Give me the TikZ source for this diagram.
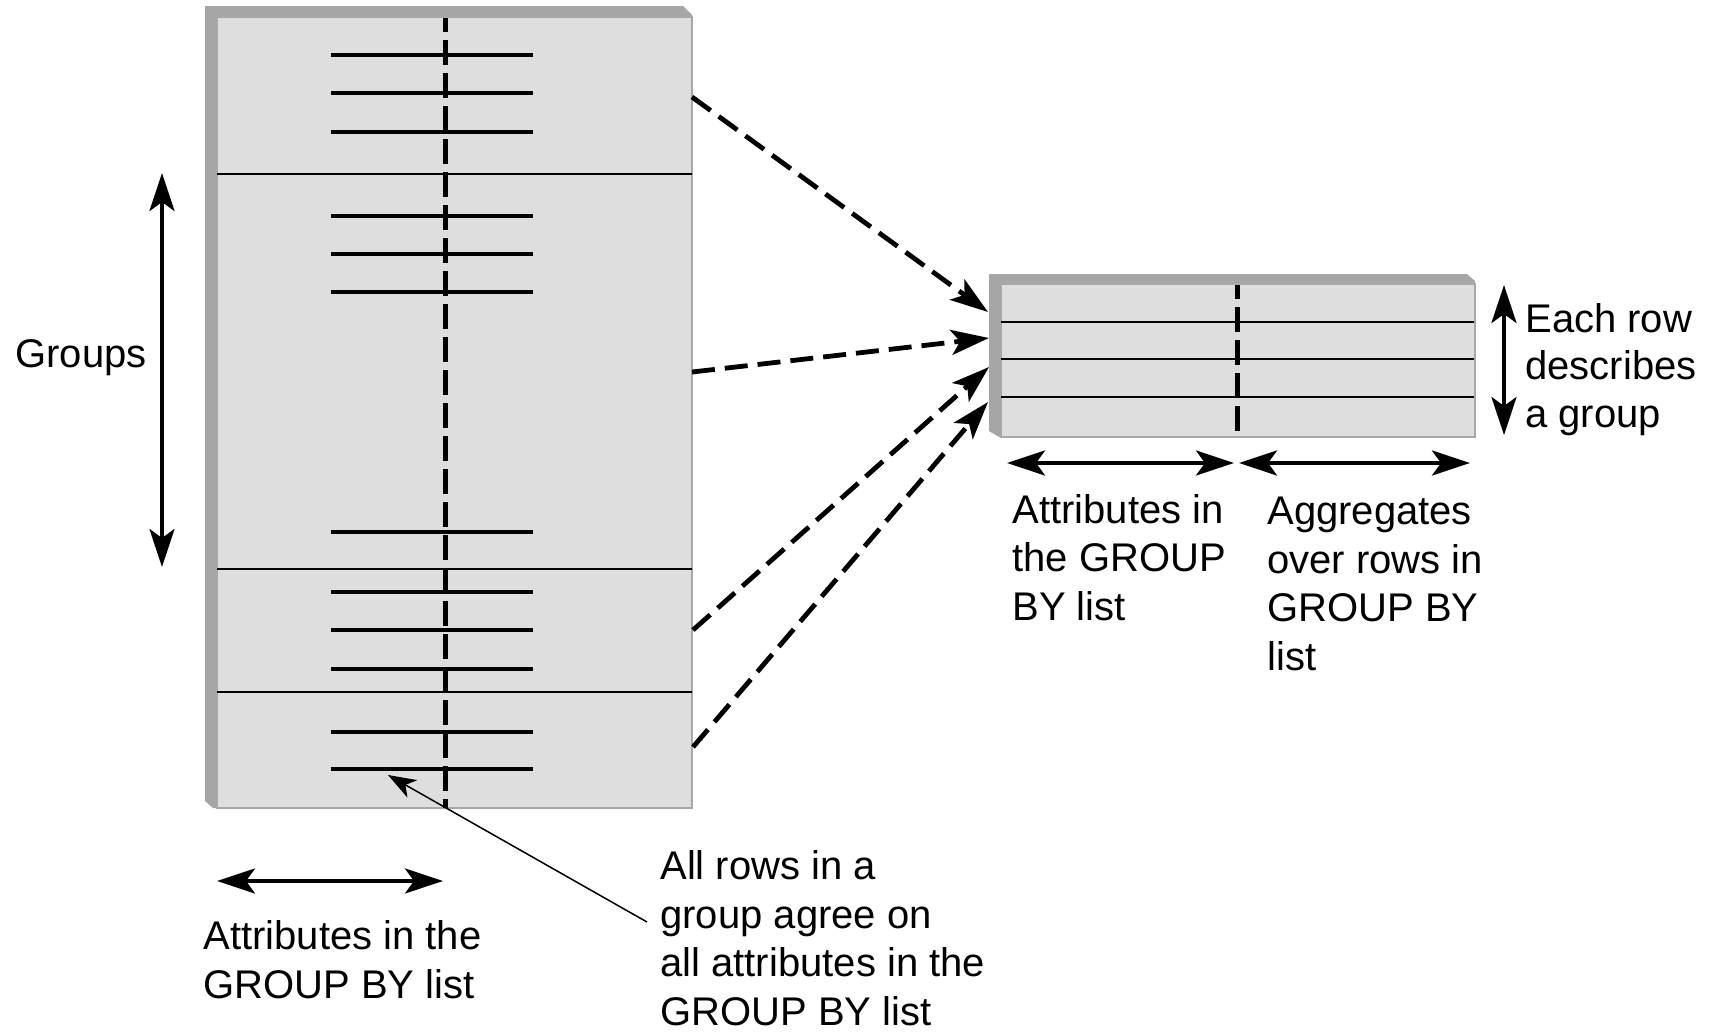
\documentclass[tikz,border=0pt]{standalone}
\usepackage{fontspec}
\setmainfont{Liberation Sans}
\usetikzlibrary{arrows.meta}

\definecolor{facegray}{HTML}{DEDEDE}
\definecolor{bandgray}{HTML}{A6A6A6}
\definecolor{edgegray}{HTML}{A8A8A8}

\tikzset{
  face/.style={fill=facegray, draw=edgegray, line width=0.75pt},
  band/.style={fill=bandgray},
  rowline/.style={line width=2pt},
  sepline/.style={line width=0.75pt},
  keyline/.style={line width=2.5pt, dash pattern=on 12.5pt off 4pt, dash phase=5.5pt},
  bigtip/.tip={Stealth[length=19pt, width=12.5pt, inset=4.5pt]},
  flow/.style={line width=2.4pt, dash pattern=on 11.5pt off 5pt, -bigtip},
  span/.style={line width=2pt, bigtip-bigtip},
  pointer/.style={line width=0.75pt, -{Stealth[length=14pt, width=10pt, inset=4pt]}},
  % multi-line captions are placed by the baseline of their last line
  caption/.style={font=\fontsize{20}{24.2}\selectfont, align=left, anchor=base west, inner sep=0pt},
}

\begin{document}
\begin{tikzpicture}[x=0.5pt, y=-0.5pt]
\path[use as bounding box] (0,0) rectangle (1716,1035);

% ---- input table with its rows sorted into groups ----
\fill[band] (205,6) -- (683,6) -- (692,15) -- (692,808) -- (213,808) -- (205,801) -- cycle;
\draw[face] (217,17) rectangle (692,808);
\foreach \y in {174,569,692}
  \draw[sepline] (217,\y) -- (692,\y);
\foreach \y in {55,93,132,216,254,292,532,592,630,669,732,769}
  \draw[rowline] (331,\y) -- (533,\y);
\draw[keyline] (445,18) -- (445,808);

% ---- result table: one row per group ----
\fill[band] (989,274) -- (1467,274) -- (1475,281) -- (1475,437) -- (999,437) -- (989,431) -- cycle;
\draw[face] (1001,284) rectangle (1475,437);
\foreach \y in {322,359,397}
  \draw[line width=1pt] (1001,\y) -- (1474,\y);
\draw[keyline] (1237,285) -- (1237,436);

% ---- groups feeding the result rows ----
\coordinate (g1) at (692,97);
\coordinate (g2) at (692,372);
\coordinate (g3) at (693,630);
\coordinate (g4) at (693,747);
\coordinate (r1) at (988,312);
\coordinate (r2) at (989,338);
\coordinate (r3) at (989,367);
\coordinate (r4) at (988,402);
\draw[flow] (g1) -- (r1);
\draw[flow] (g2) -- (r2);
\draw[flow] (g3) -- (r3);
\draw[flow] (g4) -- (r4);

% ---- dimension arrows and their captions ----
\coordinate (grpTop) at (162,173);
\coordinate (grpBot) at (162,567);
\draw[span] (grpTop) -- (grpBot);
\node[caption] (groups) at (15,367) {Groups};

\coordinate (keyL) at (217,881);
\coordinate (keyR) at (443,881);
\draw[span] (keyL) -- (keyR);
\node[caption] (keyText) at (203,998) {Attributes in the\\GROUP BY list};

\coordinate (attL) at (1007,463);
\coordinate (attR) at (1234,463);
\coordinate (aggL) at (1239,463);
\coordinate (aggR) at (1470,463);
\draw[span] (attL) -- (attR);
\draw[span] (aggL) -- (aggR);
\node[caption] (attText) at (1012,620) {Attributes in\\the GROUP\\BY list};
\node[caption] (aggText) at (1267,670) {Aggregates\\over rows in\\GROUP BY\\list};

\coordinate (rowTop) at (1504,285);
\coordinate (rowBot) at (1504,435);
\draw[span] (rowTop) -- (rowBot);
\node[caption, font=\fontsize{20}{23.6}\selectfont] (rowText) at (1525,427) {Each row\\describes\\a group};

% ---- note on agreeing rows ----
\node[caption] (agree) at (660,1025) {All rows in a\\group agree on\\all attributes in the\\GROUP BY list};
\coordinate (agreeFrom) at (647,922);
\coordinate (agreeTo) at (388,775);
\draw[pointer] (agreeFrom) -- (agreeTo);
\end{tikzpicture}
\end{document}
